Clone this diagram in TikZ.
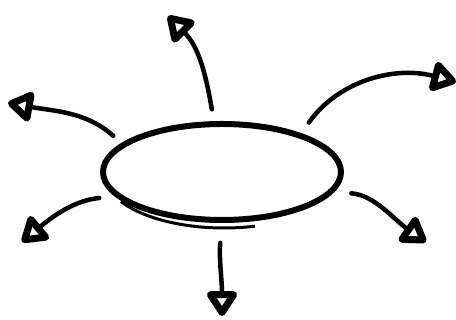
\documentclass[tikz,border=0pt]{standalone}
\usetikzlibrary{arrows.meta,shapes.geometric}
\begin{document}
\begin{tikzpicture}[x=1pt,y=1pt,
        spoke/.style={line width=4.5pt, line cap=round,
          -{Triangle[open,length=28pt,width=34pt,line width=7pt,round]}}]
        \useasboundingbox (0,0) rectangle (456,320);

        % Central ellipse
        \node[ellipse, draw, line width=6pt, minimum width=238pt,
          minimum height=96pt, inner sep=0pt] (hub) at (222,148) {};
        % Second stroke along the bottom edge
        \draw[line width=3pt] (121,118.5) arc[start angle=210, end angle=285,
          x radius=119, y radius=53];

        % Arrow ends
        \coordinate (t1) at (168,304);
        \coordinate (t2) at (456,238);
        \coordinate (t3) at (8,217);
        \coordinate (t4) at (22,78);
        \coordinate (t5) at (426,78);
        \coordinate (t6) at (222,4);

        % Arrows out of the ellipse
        \draw[spoke, shorten <=12pt] (hub.99) to[out=100, in=-45] (t1);
        \draw[spoke, shorten <=13pt] (hub.26) to[out=55, in=165] (t2);
        \draw[spoke, shorten <=11pt] (hub.164) to[out=138, in=-10] (t3);
        \draw[spoke, shorten <=16pt] (hub.193) to[out=185, in=40] (t4);
        \draw[spoke, shorten <=17pt] (hub.-10) to[out=-5, in=145] (t5);
        \draw[spoke, shorten <=20pt] (hub.-90) to[out=-95, in=90] (t6);
\end{tikzpicture}
\end{document}
